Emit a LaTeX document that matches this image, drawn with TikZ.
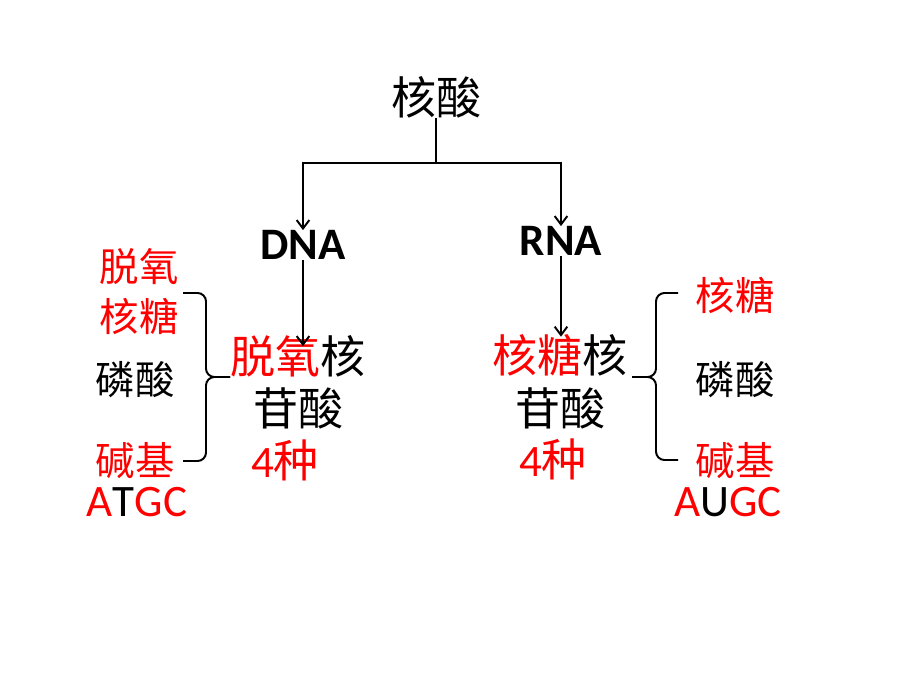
\documentclass[tikz,border=0pt]{standalone}
\usepackage{fontspec}
\setmainfont{Carlito}
\newfontfamily\cjk{Noto Sans CJK SC}
\usetikzlibrary{arrows.meta}

\begin{document}
\begin{tikzpicture}[x=0.025cm,y=-0.025cm,
	lbl/.style={inner sep=0pt,font=\cjk\fontsize{28}{30}\selectfont},
	big/.style={inner sep=0pt,font=\cjk\fontsize{32}{34}\selectfont},
	lat/.style={inner sep=0pt,font=\fontsize{32}{34}\selectfont},
	line/.style={line width=1.4pt},
	arr/.style={line width=1.4pt,-{Straight Barb[length=6pt,width=9pt]}}]
\useasboundingbox (0,0) rectangle (920,690);
%top
\node[big] (hs) at (436,97) {核酸};
\node[lat,font=\bfseries\fontsize{32}{34}\selectfont] (dna) at (303,245) {DNA};
\node[lat,font=\bfseries\fontsize{32}{34}\selectfont] (rna) at (561,241) {RNA};
\coordinate (j) at (436,163);
\draw[line] (hs) -- (j);
\draw[arr] (j) -| (dna);
\draw[arr] (j) -| (rna);
%DNA side
\node[big] (dnt) at (298,356) {\textcolor{red}{脱氧}核};
\node[big] (dnb) at (298,408) {苷酸};
\node[lat,red] (dn4) at (285,460) {4{\cjk 种}};
\draw[arr,shorten >=7pt] (dna.south) -- (dna.south |- dnt.center);
\node[lbl,red] (ds1) at (139,267) {脱氧};
\node[lbl,red] (ds2) at (139,316) {核糖};
\node[lbl] (dp) at (135,380) {磷酸};
\node[lbl,red] (db) at (135,461) {碱基};
\node[lat,red] (dbase) at (137,502) {A\textcolor{black}{T}GC};
%left brace
\coordinate (lbt) at (183,293);
\coordinate (lbb) at (183,461);
\coordinate (lbm) at (230,377);
\draw[line,rounded corners=6pt] (lbt) -- (206,293) -- (206,377) -- (lbm);
\draw[line,rounded corners=6pt] (lbb) -- (206,461) -- (206,377) -- (lbm);
%RNA side
\node[big] (rnt) at (560,355) {\textcolor{red}{核糖}核};
\node[big] (rnb) at (560,408) {苷酸};
\node[lat,red] (rn4) at (553,459) {4{\cjk 种}};
\draw[arr,shorten >=13pt] (rna.south) -- (rna.south |- rnt.center);
\node[lbl,red] (rs) at (735,295) {核糖};
\node[lbl] (rp) at (735,380) {磷酸};
\node[lbl,red] (rb) at (735,461) {碱基};
\node[lat,red] (rbase) at (728,502) {A\textcolor{black}{U}GC};
%right brace
\coordinate (rbt) at (678,293);
\coordinate (rbb) at (678,460);
\coordinate (rbm) at (632,377);
\draw[line,rounded corners=6pt] (rbt) -- (656,293) -- (656,377) -- (rbm);
\draw[line,rounded corners=6pt] (rbb) -- (656,460) -- (656,377) -- (rbm);
\end{tikzpicture}
\end{document}
